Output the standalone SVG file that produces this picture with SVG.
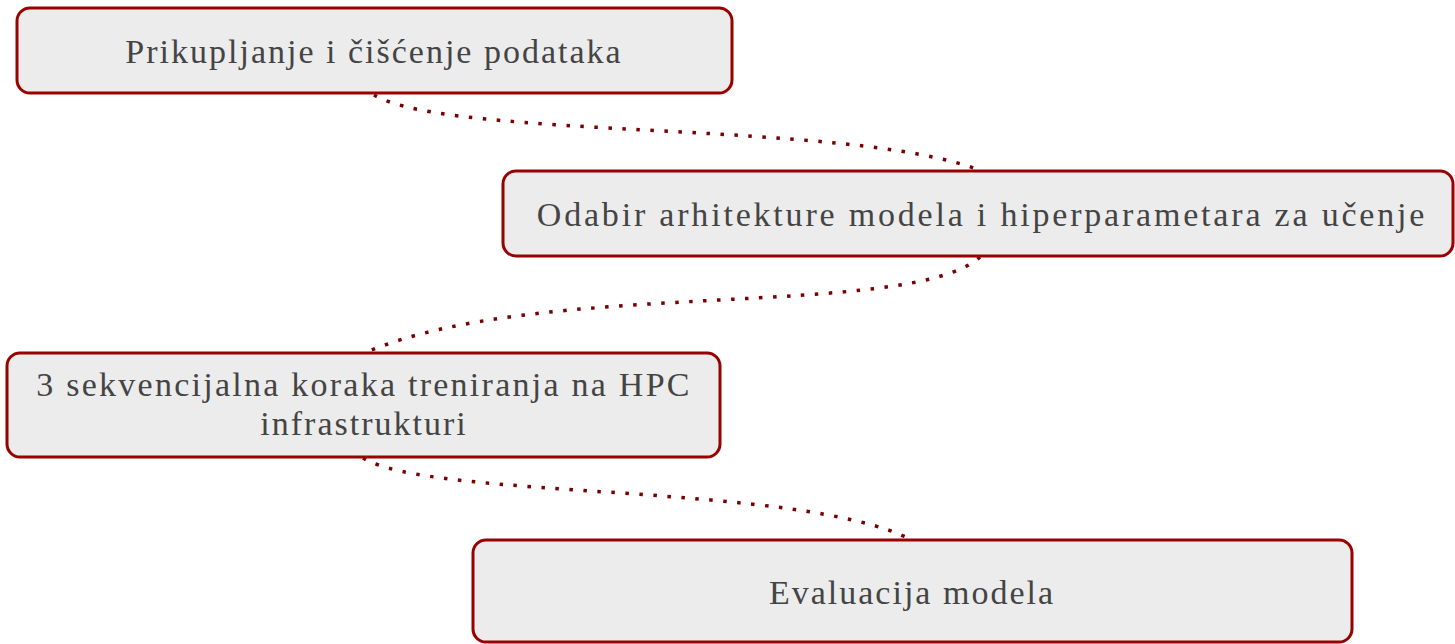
<svg xmlns="http://www.w3.org/2000/svg" width="1455" height="644" viewBox="0 0 1455 644">
<style>
.box{fill:#ececec;stroke:#990000;stroke-width:3}
.lbl{font-family:"Liberation Serif","Times New Roman",serif;font-size:34px;letter-spacing:2px;fill:#444;text-anchor:middle}
.wide{letter-spacing:2.8px}
.link{fill:none;stroke:#7a0000;stroke-width:3.5;stroke-dasharray:3.5 10.5}
</style>
<rect width="1455" height="644" fill="#fff"/>
<g id="connectors">
<path class="link" d="M374 95 C450 140 850 120 979 170"/>
<path class="link" d="M980 257 C910 320 540 278 367 352"/>
<path class="link" d="M363 458 C430 500 800 482 912 540"/>
</g>
<g id="n1">
<rect class="box" x="17" y="8" width="715" height="85" rx="13"/>
<text class="lbl" x="374" y="63">Prikupljanje i čišćenje podataka</text>
</g>
<g id="n2">
<rect class="box" x="503" y="171" width="950" height="85" rx="13"/>
<text class="lbl wide" x="982" y="226">Odabir arhitekture modela i hiperparametara za učenje</text>
</g>
<g id="n3">
<rect class="box" x="7" y="353" width="713" height="104" rx="13"/>
<text class="lbl" x="364" y="396" style="letter-spacing:2.25px">3 sekvencijalna koraka treniranja na HPC</text>
<text class="lbl" x="364" y="435">infrastrukturi</text>
</g>
<g id="n4">
<rect class="box" x="473" y="540" width="879" height="102" rx="13"/>
<text class="lbl" x="912" y="604">Evaluacija modela</text>
</g>
</svg>
